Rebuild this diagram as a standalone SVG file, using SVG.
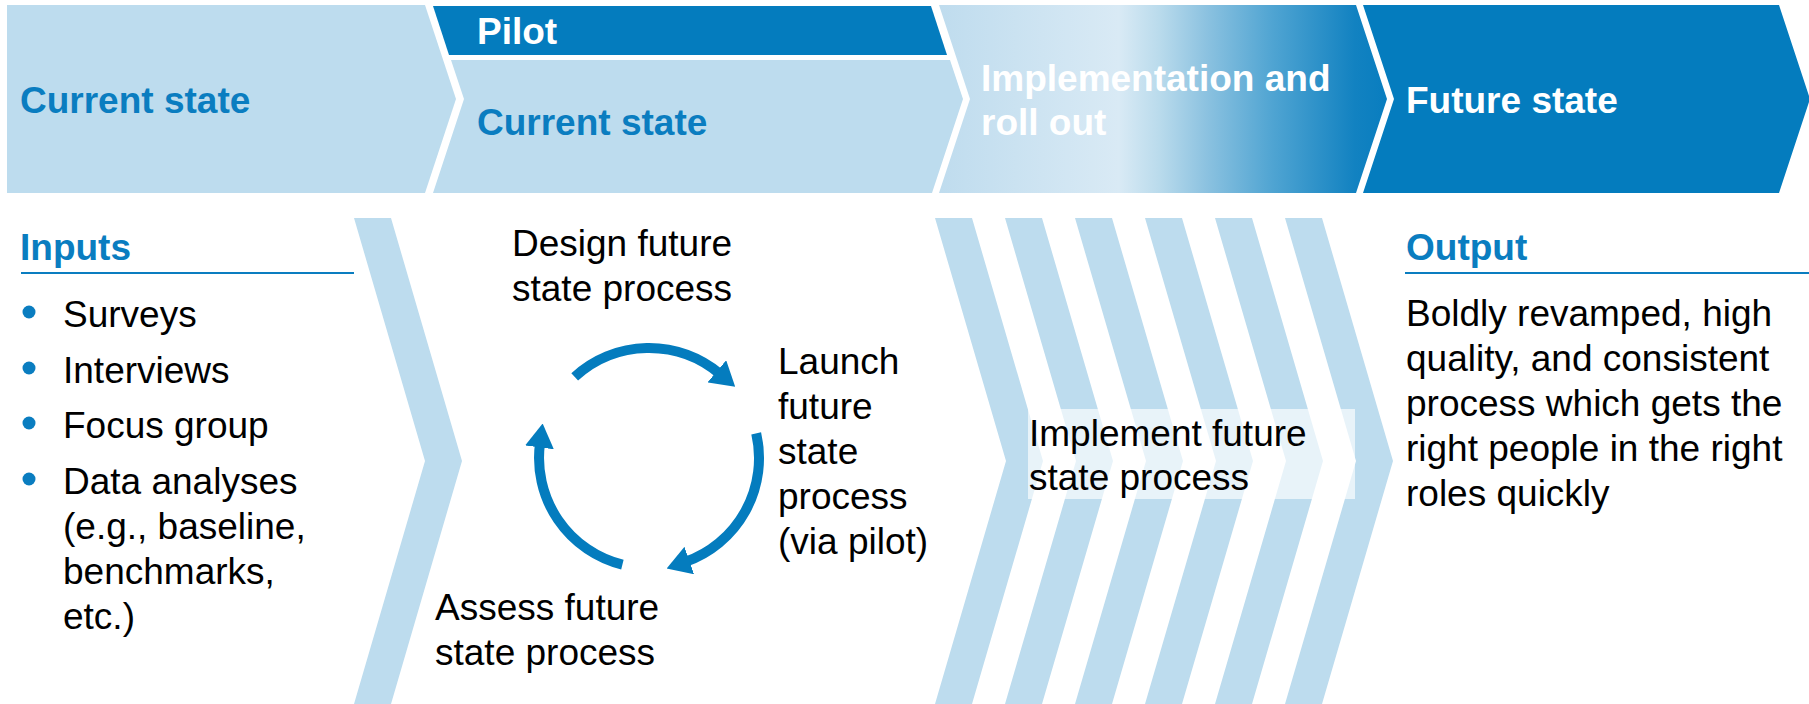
<svg xmlns="http://www.w3.org/2000/svg" width="1809" height="704" viewBox="0 0 1809 704">
  <style>
    .light { fill: #bddcee; }
    .dark { fill: #047cbe; }
    .head { font-family: "Liberation Sans", Arial, sans-serif; font-size: 37px; font-weight: bold; }
    .head-blue { fill: #0a7dc0; }
    .head-white { fill: #ffffff; }
    .body { font-family: "Liberation Sans", Arial, sans-serif; font-size: 37px; fill: #000000; }
    .rule { stroke: #0a7dc0; stroke-width: 2; fill: none; }
    .cycle { fill: none; stroke: #047cbe; stroke-width: 10; stroke-linecap: butt; marker-end: url(#arrowhead); }
  </style>
  <defs>
    <linearGradient id="rolloutFill" gradientUnits="userSpaceOnUse" x1="939" y1="0" x2="1388" y2="0">
      <stop offset="0" stop-color="#bfdcee"/>
      <stop offset="0.40" stop-color="#d9eaf5"/>
      <stop offset="0.49" stop-color="#badbec"/>
      <stop offset="0.595" stop-color="#8cc2e0"/>
      <stop offset="0.744" stop-color="#4fa4d2"/>
      <stop offset="0.926" stop-color="#1282c1"/>
      <stop offset="1" stop-color="#087dbf"/>
    </linearGradient>
    <marker id="arrowhead" markerUnits="userSpaceOnUse" markerWidth="24" markerHeight="29" viewBox="0 0 24 29" refX="4" refY="14.5" orient="auto">
      <path d="M0,0 L24,14.5 L0,29 Z" fill="#047cbe"/>
    </marker>
    <!-- one chevron stripe, 37 wide, spanning the lower band -->
    <polygon id="stripe" points="0,218 37,218 108,461 37,704 0,704 71,461"/>
  </defs>

  <!-- header phases -->
  <g id="phase-current">
    <polygon class="light" points="7,5 425,5 456,99 425,193 7,193"/>
    <text class="head head-blue" x="20" y="113">Current state</text>
  </g>
  <g id="phase-pilot">
    <polygon class="dark" points="433,6 931,6 947,55 449,55"/>
    <text class="head head-white" x="477" y="44">Pilot</text>
    <polygon class="light" points="451,60 950,60 963,99 932,193 433,193 464,99"/>
    <text class="head head-blue" x="477" y="135">Current state</text>
  </g>
  <g id="phase-rollout">
    <polygon fill="url(#rolloutFill)" points="939,5 1356,5 1387,99 1356,193 939,193 970,99"/>
    <text class="head head-white" x="981" y="91">Implementation and</text>
    <text class="head head-white" x="981" y="135">roll out</text>
  </g>
  <g id="phase-future">
    <polygon class="dark" points="1363,5 1779,5 1810,99 1779,193 1363,193 1394,99"/>
    <text class="head head-white" x="1406" y="113">Future state</text>
  </g>

  <!-- inputs column -->
  <g id="inputs">
    <text class="head head-blue" x="20" y="260">Inputs</text>
    <line class="rule" x1="21" y1="273" x2="354" y2="273"/>
    <g fill="#0a7dc0">
      <circle cx="29" cy="312" r="6.5"/>
      <circle cx="29" cy="368" r="6.5"/>
      <circle cx="29" cy="423" r="6.5"/>
      <circle cx="29" cy="479" r="6.5"/>
    </g>
    <text class="body" x="63" y="327">Surveys</text>
    <text class="body" x="63" y="383">Interviews</text>
    <text class="body" x="63" y="438">Focus group</text>
    <text class="body" x="63" y="494">Data analyses</text>
    <text class="body" x="63" y="539">(e.g., baseline,</text>
    <text class="body" x="63" y="584">benchmarks,</text>
    <text class="body" x="63" y="629">etc.)</text>
  </g>

  <!-- chevron between inputs and pilot cycle -->
  <g id="chevron-inputs">
    <use href="#stripe" x="354" class="light"/>
  </g>

  <!-- pilot cycle labels -->
  <g id="step-design">
    <text class="body" x="512" y="256">Design future</text>
    <text class="body" x="512" y="301">state process</text>
  </g>
  <g id="step-launch">
    <text class="body" x="778" y="374">Launch</text>
    <text class="body" x="778" y="419">future</text>
    <text class="body" x="778" y="464">state</text>
    <text class="body" x="778" y="509">process</text>
    <text class="body" x="778" y="554">(via pilot)</text>
  </g>
  <g id="step-assess">
    <text class="body" x="435" y="620">Assess future</text>
    <text class="body" x="435" y="665">state process</text>
  </g>

  <!-- cycle arrows, centre (649,458), radius 110 -->
  <g id="connectors">
    <path class="cycle" d="M574.7,376.9 A110,110 0 0 1 719.9,373.9"/>
    <path class="cycle" d="M756.2,433.3 A110,110 0 0 1 685.5,561.8"/>
    <path class="cycle" d="M622.4,564.7 A110,110 0 0 1 540.0,443.4"/>
  </g>

  <!-- roll-out stripes -->
  <g id="chevron-rollout" class="light">
    <use href="#stripe" x="935"/>
    <use href="#stripe" x="1005"/>
    <use href="#stripe" x="1075"/>
    <use href="#stripe" x="1145"/>
    <use href="#stripe" x="1215"/>
    <use href="#stripe" x="1285"/>
  </g>
  <g id="step-implement">
    <rect x="1028" y="409" width="327" height="90" fill="#ffffff" fill-opacity="0.65"/>
    <text class="body" x="1029" y="446">Implement future</text>
    <text class="body" x="1029" y="490">state process</text>
  </g>

  <!-- output column -->
  <g id="output">
    <text class="head head-blue" x="1406" y="260">Output</text>
    <line class="rule" x1="1405" y1="273" x2="1809" y2="273"/>
    <text class="body" x="1406" y="326">Boldly revamped, high</text>
    <text class="body" x="1406" y="371">quality, and consistent</text>
    <text class="body" x="1406" y="416">process which gets the</text>
    <text class="body" x="1406" y="461">right people in the right</text>
    <text class="body" x="1406" y="506">roles quickly</text>
  </g>
</svg>
